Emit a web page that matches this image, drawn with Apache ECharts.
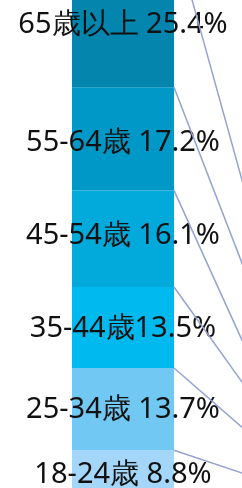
<!DOCTYPE html>
<html>
<head>
<meta charset="utf-8">
<script src="https://cdn.jsdelivr.net/npm/echarts@6/dist/echarts.min.js"></script>
<style>
html, body { margin: 0; padding: 0; background: #fff; }
#chart { width: 242px; height: 488px; }
</style>
</head>
<body>
<div id="chart"></div>
<script>
// age groups, bottom to top
var ageGroups = ['18-24歳', '25-34歳', '35-44歳', '45-54歳', '55-64歳', '65歳以上'];
var ageLabels = ['18-24歳 8.8%', '25-34歳 13.7%', '35-44歳13.5%', '45-54歳 16.1%', '55-64歳 17.2%', '65歳以上 25.4%'];
// left bar (visible) shares, %
var leftShares = [8.8, 13.7, 13.5, 16.1, 17.2, 25.4];
// right bar (off screen) shares, estimated from the connector slopes
var rightShares = [3.2, 4.8, 4.7, 2.7, 10.8, 8.4];
var segColors = ['#a3d6f8', '#70c8f3', '#00baef', '#02a9db', '#0099c7', '#0385ae'];
var labelShift = [-2, 1, 1, -3, 4, 14];
var BAR_W = 102;

function cumulate(arr) {
    var out = [0];
    for (var i = 0; i < arr.length; i++) out.push(out[i] + arr[i]);
    return out;
}
var leftCum = cumulate(leftShares);
var rightCum = cumulate(rightShares);

var series = [];
for (var i = 0; i < ageGroups.length; i++) {
    var top = i == ageGroups.length - 1;
    series.push({
        name: ageGroups[i],
        type: 'bar',
        stack: 'age',
        barWidth: BAR_W,
        itemStyle: { color: segColors[i] },
        emphasis: { disabled: true },
        label: {
            show: true,
            position: 'inside',
            formatter: function (p) { return p.dataIndex == 0 ? ageLabels[p.seriesIndex] : ''; },
            fontSize: top ? 29 : 26,
            color: top ? '#111111' : '#1d2231',
            fontFamily: top ? 'Noto Sans' : 'Liberation Sans',
            offset: [0, labelShift[i]]
        },
        data: [leftShares[i], rightShares[i]]
    });
}

var links = [];
for (var j = 0; j < leftCum.length; j++) links.push([0, leftCum[j], rightCum[j]]);

series.push({
    type: 'custom',
    encode: { x: 0, y: 1 },
    silent: true,
    z: 5,
    renderItem: function (params, api) {
        var p1 = api.coord([0, api.value(1)]);
        var p2 = api.coord([1, api.value(2)]);
        return {
            type: 'line',
            shape: { x1: p1[0] + BAR_W / 2, y1: p1[1], x2: p2[0] - BAR_W / 2, y2: p2[1] },
            style: { stroke: '#94a3d1', lineWidth: 1.5 }
        };
    },
    data: links
});

var myChart = echarts.init(document.getElementById('chart'));
myChart.setOption({
    animation: false,
    textStyle: { fontFamily: 'Liberation Sans' },
    grid: { left: 22, width: 404, top: -97, height: 600, outerBoundsMode: 'none', containLabel: false },
    xAxis: { type: 'category', data: ['left', 'right'], show: false },
    yAxis: { type: 'value', min: 0, max: 100, show: false },
    series: series
});
</script>
</body>
</html>
